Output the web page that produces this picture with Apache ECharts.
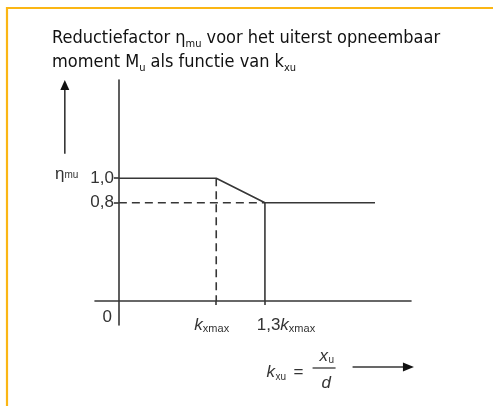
<!DOCTYPE html>
<html>
<head>
<meta charset="utf-8">
<script src="https://cdn.jsdelivr.net/npm/echarts@6/dist/echarts.min.js"></script>
<style>
  html, body { margin: 0; padding: 0; background: #fff; }
  #chart { width: 493px; height: 406px; }
</style>
</head>
<body>
<div id="chart"></div>
<script>
// reduction factor eta_mu as function of k_xu (x in units of k_xmax, not to scale)
const kxu = [0, 1, 1.5, 2.63];
const etaMu = [1.0, 1.0, 0.8, 0.8];

const xTicks = [1, 1.5];
const xTickLabels = ['{k|k}{s|xmax}{p|}', '{p2|}{n|1,3}{k|k}{s|xmax}'];
const yTicks = [0.8, 1.0];
const yTickLabels = ['{n|0,8}', '{e|η}{m|mu}{g|}{n|1,0}'];

const xRange = [-0.245, 3];
const yRange = [-0.195, 1.8];

const ink = '#363636';
const lineW = 1.6;
const numFont = "'Liberation Sans', Arial, sans-serif";
const titleFont = "'Liberation Sans Narrow', 'DejaVu Sans Condensed', 'Roboto Condensed', 'Liberation Sans', sans-serif";

const chart = echarts.init(document.getElementById('chart'));

const option = {
  animation: false,
  title: {
    text: 'Reductiefactor η{s|mu} voor het uiterst opneembaar\nmoment M{s|u} als functie van k{s|xu}',
    left: 47,
    top: 21,
    textStyle: {
      fontFamily: titleFont,
      fontSize: 18,
      fontWeight: 'normal',
      color: '#111',
      lineHeight: 24,
      rich: {
        s: { fontFamily: titleFont, fontSize: 11, lineHeight: 12, verticalAlign: 'bottom', color: '#111' }
      }
    }
  },
  grid: { left: 95, right: 82, top: 80, bottom: 81 },
  xAxis: {
    type: 'value',
    min: xRange[0],
    max: xRange[1],
    splitLine: { show: false },
    axisLine: { onZero: true, lineStyle: { color: ink, width: lineW } },
    axisTick: { show: true, customValues: xTicks, length: 4, lineStyle: { color: ink, width: lineW } },
    axisLabel: {
      customValues: xTicks,
      margin: -8,
      formatter: (v) => xTickLabels[xTicks.indexOf(v)] || '',
      rich: {
        n: { fontFamily: numFont, fontSize: 17, color: '#333' },
        k: { fontFamily: numFont, fontSize: 17, fontStyle: 'italic', color: '#333' },
        s: { fontFamily: numFont, fontSize: 11, color: '#333', padding: [6, 0, 0, 0] },
        p: { width: 9 },
        p2: { width: 42 }
      }
    }
  },
  yAxis: {
    type: 'value',
    min: yRange[0],
    max: yRange[1],
    splitLine: { show: false },
    axisLine: { onZero: true, lineStyle: { color: ink, width: lineW } },
    axisTick: { show: true, customValues: yTicks, length: 5, lineStyle: { color: ink, width: lineW } },
    axisLabel: {
      customValues: yTicks,
      margin: -19,
      formatter: (v) => yTickLabels[yTicks.indexOf(v)] || '',
      rich: {
        n: { fontFamily: numFont, fontSize: 17, color: '#333' },
        e: { fontFamily: numFont, fontSize: 17, color: '#333', padding: [0, 0, 8, 0] },
        m: { fontFamily: numFont, fontSize: 10, color: '#333', padding: [0, 0, 5, 0] },
        g: { width: 12 }
      }
    }
  },
  series: [
    {
      name: 'eta_mu',
      type: 'line',
      data: kxu.map((k, i) => [k, etaMu[i]]),
      symbol: 'none',
      lineStyle: { color: ink, width: lineW }
    },
    {
      name: 'drop',
      type: 'line',
      data: [[kxu[2], etaMu[2]], [kxu[2], 0]],
      symbol: 'none',
      lineStyle: { color: ink, width: lineW }
    },
    {
      name: 'guide08',
      type: 'line',
      data: [[0, etaMu[2]], [kxu[2], etaMu[2]]],
      symbol: 'none',
      lineStyle: { color: ink, width: lineW, type: [8, 5] }
    },
    {
      name: 'guideK',
      type: 'line',
      data: [[kxu[1], etaMu[1]], [kxu[1], 0]],
      symbol: 'none',
      lineStyle: { color: ink, width: lineW, type: [8, 5] }
    }
  ]
};

chart.setOption(option);

// decorations: frame, axis arrows, "0" and the k_xu formula
const P = (x, y) => chart.convertToPixel({ gridIndex: 0 }, [x, y]);
const o = P(0, 0);
const ya = [P(-0.555, 1.2), P(-0.555, 1.8)];
const xa = [P(2.4, -0.537), P(3.03, -0.537)];
const bx = xa[0][0], by = xa[0][1];
const txt = (x, y, s, size, italic, align) => ({
  type: 'text', x: x, y: y,
  style: { text: s, fontFamily: numFont, fontSize: size, fontStyle: italic ? 'italic' : 'normal',
           fill: '#333', align: align || 'left', verticalAlign: 'middle' }
});

chart.setOption({
  graphic: [
    { type: 'rect', shape: { x: 7, y: 8, width: 520, height: 440 },
      style: { fill: 'none', stroke: '#fbb614', lineWidth: 2.2 }, z: -1 },
    { type: 'line', shape: { x1: ya[0][0], y1: ya[0][1], x2: ya[1][0], y2: ya[1][1] + 8 },
      style: { stroke: ink, lineWidth: lineW } },
    { type: 'polygon', shape: { points: [[ya[1][0], ya[1][1]], [ya[1][0] - 4.5, ya[1][1] + 10], [ya[1][0] + 4.5, ya[1][1] + 10]] },
      style: { fill: '#111' } },
    { type: 'line', shape: { x1: xa[0][0], y1: xa[0][1], x2: xa[1][0] - 8, y2: xa[1][1] },
      style: { stroke: ink, lineWidth: lineW } },
    { type: 'polygon', shape: { points: [[xa[1][0], xa[1][1]], [xa[1][0] - 11, xa[1][1] - 4.5], [xa[1][0] - 11, xa[1][1] + 4.5]] },
      style: { fill: '#111' } },
    txt(o[0] - 7, o[1] + 16, '0', 17, false, 'right'),
    txt(bx - 86, by + 5, 'k', 17, true),
    txt(bx - 77, by + 10, 'xu', 10, false),
    txt(bx - 59, by + 5, '=', 17, false),
    txt(bx - 33, by - 11, 'x', 17, true),
    txt(bx - 24, by - 7, 'u', 10, false),
    { type: 'line', shape: { x1: bx - 40, y1: by + 1, x2: bx - 17, y2: by + 1 },
      style: { stroke: ink, lineWidth: 1.3 } },
    txt(bx - 31, by + 16, 'd', 17, true)
  ]
});
</script>
</body>
</html>
